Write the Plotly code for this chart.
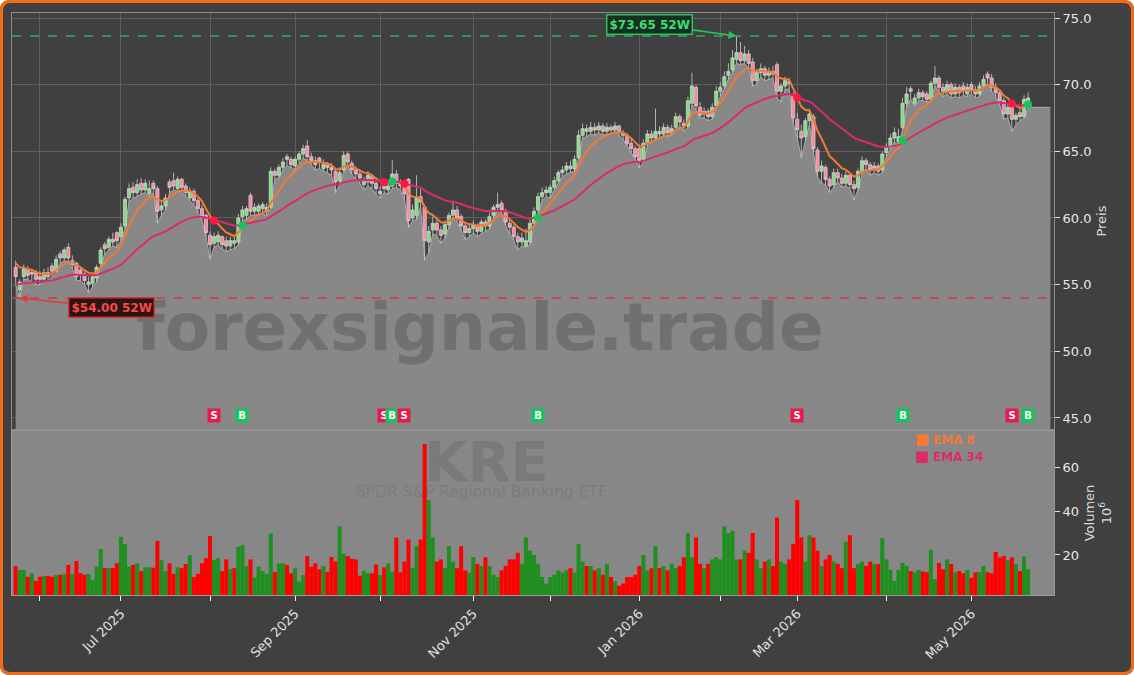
import numpy as np
import pandas as pd
import plotly.graph_objects as go

# ---------------- data ----------------
holidays = ["2025-05-26", "2025-06-19", "2025-07-04", "2025-09-01", "2025-11-27",
            "2025-12-25", "2026-01-01", "2026-01-19", "2026-02-16", "2026-04-03"]

opens = [
    56.3, 54.6, 55.6, 56.1, 55.8, 55.9,
    55.6, 55.4, 55.9, 56.4, 56.0, 57.3, 57.0, 57.8, 56.5, 56.6, 56.1, 55.8, 55.0, 55.1, 55.5, 56.6, 58.0, 57.8, 58.4, 58.9,
    58.6, 59.4, 61.5, 62.3, 61.9, 62.6, 62.1, 61.8, 62.6, 62.2, 60.6, 60.9, 62.7, 62.8, 62.2, 62.9, 62.4, 61.5, 62.0, 61.3, 60.7, 60.2,
    58.7, 58.1, 58.2, 58.6, 58.3, 57.9, 58.3, 58.2, 60.1, 60.2, 61.7, 60.5, 60.5, 60.7, 60.5, 60.8, 63.5, 63.2, 63.8, 64.6, 64.4,
    63.9, 64.4, 64.8, 65.4, 64.6, 64.3, 64.5, 63.7, 64.1, 63.8, 63.5, 62.8, 63.6, 64.8, 64.1, 63.6, 63.3, 62.5, 62.7, 63.1, 62.6,
    61.8, 62.6, 62.1, 62.4, 63.3, 62.6, 62.4, 62.9, 60.0, 60.2, 61.6, 60.8, 58.2, 59.1, 59.6, 59.1, 58.8, 59.5, 60.2, 60.6, 60.1, 59.4, 58.9,
    59.2, 59.4, 59.0, 59.7, 59.4, 60.2, 60.8, 61.1, 60.5, 59.6, 59.3, 58.6, 58.2, 57.9, 58.2, 59.6, 60.6, 61.6, 61.9,
    61.9, 62.3, 62.8, 63.4, 63.6, 63.9, 63.7, 64.5, 66.2, 66.7, 66.5, 66.8, 66.6, 66.9, 66.5, 66.8, 66.6, 66.9, 66.4, 66.2, 65.6, 65.2,
    65.2, 64.4, 65.6, 66.3, 66.0, 66.5, 66.3, 66.8, 66.4, 66.8, 67.6, 67.1, 66.9, 68.6, 69.8, 68.3, 67.8, 68.0, 67.6, 68.4,
    69.5, 69.9, 70.7, 71.1, 71.9, 72.4, 71.8, 72.3, 71.7, 70.3, 70.9, 71.2, 70.7, 71.0, 71.5, 69.5, 69.9, 70.2, 69.2,
    67.4, 66.5, 66.1, 67.3, 67.6, 65.1, 63.5, 63.8, 62.9, 62.5, 63.4, 63.0, 62.6, 63.2, 62.5, 62.3, 63.5, 64.3, 64.0, 63.6, 63.9, 63.6,
    64.9, 65.3, 66.0, 65.7, 66.8, 68.6, 69.7, 68.6, 69.0, 69.4, 69.3, 68.9, 70.1, 70.5, 69.8, 69.5, 70.0, 69.3, 69.8, 69.9, 69.3,
    70.0, 69.6, 69.3, 69.9, 70.8, 70.5, 69.8, 69.4, 68.8, 67.8, 68.3, 67.4, 67.9, 67.6, 68.5,
]
highs = [
    56.8, 55.4, 56.5, 56.4, 56.2, 56.1,
    56.0, 56.2, 56.3, 56.6, 57.2, 57.5, 57.8, 58.1, 57.2, 56.7, 56.3, 56.0, 55.6, 55.9, 56.5, 57.8, 58.2, 58.6, 58.9, 59.0,
    59.6, 61.6, 62.6, 62.7, 62.9, 63.0, 62.9, 62.8, 62.8, 62.4, 61.3, 61.8, 62.9, 63.4, 63.1, 63.0, 62.6, 62.3, 62.2, 61.5, 61.0, 60.3,
    59.0, 58.9, 59.0, 58.7, 58.6, 58.6, 58.6, 60.3, 60.9, 60.9, 61.9, 61.1, 61.1, 61.2, 61.1, 63.8, 63.7, 64.0, 64.5, 64.8, 64.6,
    64.6, 65.0, 65.5, 65.85, 64.9, 64.6, 64.6, 64.4, 64.2, 64.1, 63.7, 63.8, 65.0, 65.0, 64.3, 63.9, 63.6, 63.1, 63.5, 63.3, 62.9,
    62.4, 62.8, 62.7, 64.35, 63.6, 62.9, 62.6, 63.0, 61.0, 63.2, 62.2, 61.0, 59.4, 60.1, 59.9, 59.4, 59.8, 60.4, 61.3, 60.9, 60.3, 59.7, 59.5,
    59.8, 59.6, 59.9, 59.9, 60.4, 61.0, 61.9, 61.3, 60.7, 59.9, 59.5, 58.9, 58.9, 59.2, 59.9, 60.8, 61.9, 62.3, 62.4,
    62.5, 63.1, 63.6, 63.9, 64.2, 64.3, 64.7, 66.6, 67.1, 67.0, 67.2, 67.1, 67.2, 67.1, 67.1, 67.0, 67.2, 67.0, 66.6, 66.4, 65.9, 65.4,
    65.5, 65.9, 66.6, 66.6, 68.2, 66.9, 67.1, 67.0, 67.0, 67.9, 67.8, 67.4, 69.1, 70.9, 70.0, 68.7, 68.3, 68.2, 68.6, 69.9,
    70.2, 71.0, 71.6, 72.6, 73.65, 73.2, 72.9, 72.6, 72.0, 71.2, 71.6, 71.4, 71.3, 71.4, 71.7, 70.1, 70.6, 70.5, 69.4,
    67.9, 67.0, 67.5, 68.2, 67.8, 65.3, 64.3, 64.0, 63.1, 63.7, 63.7, 63.3, 63.5, 63.4, 62.8, 63.7, 64.6, 64.5, 64.2, 64.2, 64.1, 65.0,
    65.6, 66.3, 66.8, 66.7, 69.0, 69.8, 69.9, 69.3, 69.7, 69.6, 69.5, 70.3, 71.4, 70.7, 70.1, 70.3, 70.2, 70.1, 70.0, 70.2, 70.1,
    70.2, 69.9, 70.2, 70.7, 71.0, 70.8, 70.1, 69.6, 69.0, 68.6, 68.5, 67.9, 68.2, 69.2, 69.4,
]
lows = [
    55.0, 54.0, 55.4, 55.4, 55.2, 55.0,
    55.0, 55.2, 55.3, 55.6, 55.9, 56.6, 56.8, 56.7, 56.2, 55.3, 55.3, 55.0, 54.4, 54.8, 55.2, 56.4, 57.3, 57.6, 57.9, 57.8,
    58.3, 59.2, 61.2, 61.5, 61.6, 61.8, 61.9, 61.6, 61.9, 59.6, 60.2, 60.6, 61.9, 62.1, 62.0, 62.0, 61.6, 61.3, 61.0, 60.4, 59.8, 58.6,
    56.9, 57.8, 58.0, 57.7, 57.5, 57.6, 57.7, 58.0, 59.8, 59.9, 60.2, 60.2, 60.3, 60.3, 60.2, 60.7, 62.9, 63.0, 63.6, 63.9, 63.8,
    63.6, 64.1, 64.5, 64.3, 64.0, 63.6, 63.7, 63.5, 63.4, 63.2, 61.9, 62.5, 63.4, 63.9, 63.3, 62.9, 62.6, 62.1, 62.4, 62.2, 61.8,
    61.5, 61.9, 61.8, 62.2, 62.3, 62.1, 61.4, 59.3, 59.8, 59.9, 60.8, 56.85, 57.4, 58.8, 58.7, 58.1, 58.5, 59.3, 59.9, 59.7, 59.1, 58.4, 58.6,
    58.9, 58.6, 58.8, 59.0, 59.2, 60.0, 60.6, 60.3, 59.4, 58.8, 58.3, 57.6, 57.9, 57.8, 58.0, 59.4, 60.4, 61.3, 61.6,
    61.5, 62.1, 62.6, 63.1, 63.3, 63.4, 63.5, 64.4, 66.0, 66.1, 66.3, 66.2, 66.4, 66.2, 66.3, 66.3, 66.5, 66.2, 65.9, 65.4, 64.9, 64.4,
    63.75, 64.2, 65.4, 65.7, 65.9, 66.0, 66.1, 66.1, 66.2, 66.6, 66.9, 66.5, 66.8, 68.5, 68.1, 67.5, 67.5, 67.3, 67.4, 68.2,
    69.1, 69.7, 70.4, 70.9, 71.6, 71.5, 71.6, 71.2, 69.9, 70.0, 70.6, 70.3, 70.4, 70.5, 69.0, 68.7, 69.6, 69.7, 67.1,
    66.0, 64.5, 65.8, 67.0, 64.9, 63.1, 62.6, 62.5, 61.9, 62.3, 62.7, 62.3, 62.4, 62.2, 61.35, 62.1, 63.3, 63.7, 63.2, 63.4, 63.2, 63.4,
    64.6, 65.1, 65.7, 65.5, 66.6, 68.3, 68.9, 68.4, 68.8, 68.8, 68.7, 68.8, 69.9, 69.5, 69.1, 69.3, 69.0, 69.1, 69.0, 69.2, 69.1,
    69.3, 69.0, 69.1, 69.7, 70.1, 69.5, 69.1, 68.5, 67.4, 67.5, 66.5, 67.0, 67.3, 67.5, 68.3,
]
closes = [
    55.6, 55.2, 56.2, 55.7, 55.9, 55.4,
    55.4, 55.9, 55.6, 56.0, 56.9, 57.0, 57.6, 57.0, 56.8, 55.6, 55.8, 55.3, 55.2, 55.6, 56.3, 57.6, 57.7, 58.4, 58.2, 58.3,
    59.3, 61.4, 62.2, 61.9, 62.5, 62.1, 62.6, 62.2, 62.2, 60.5, 60.9, 61.5, 62.3, 62.4, 62.9, 62.3, 61.9, 62.0, 61.3, 60.7, 60.1, 58.9,
    58.0, 58.6, 58.7, 58.0, 57.9, 58.3, 58.1, 60.0, 60.6, 60.7, 60.5, 60.8, 60.9, 61.0, 60.8, 63.5, 63.2, 63.8, 64.2, 64.4, 64.0,
    64.4, 64.8, 65.2, 64.6, 64.3, 64.0, 64.2, 64.0, 63.8, 63.6, 62.7, 63.4, 64.7, 64.2, 63.6, 63.3, 63.0, 62.8, 63.2, 62.6, 62.2,
    62.0, 62.2, 62.4, 63.3, 62.6, 62.4, 61.8, 59.8, 60.6, 61.5, 61.2, 58.3, 59.0, 59.6, 59.1, 58.7, 59.5, 60.2, 60.6, 60.0, 59.4, 58.9, 59.2,
    59.5, 59.0, 59.7, 59.4, 60.1, 60.8, 61.0, 60.6, 59.7, 59.3, 58.6, 58.2, 58.5, 58.3, 59.6, 60.5, 61.6, 61.9, 62.1,
    62.3, 62.8, 63.4, 63.6, 63.9, 63.7, 64.4, 66.2, 66.7, 66.5, 66.8, 66.6, 66.9, 66.5, 66.8, 66.6, 66.9, 66.4, 66.2, 65.6, 65.2, 64.6,
    64.3, 65.6, 66.3, 66.0, 66.5, 66.3, 66.8, 66.4, 66.7, 67.6, 67.2, 66.9, 68.8, 69.9, 68.4, 67.7, 68.0, 67.6, 68.3, 69.5,
    69.8, 70.6, 71.0, 72.0, 72.4, 71.8, 72.3, 71.6, 70.3, 70.9, 71.2, 70.7, 71.0, 70.8, 69.5, 69.9, 70.3, 70.1, 67.5,
    66.6, 66.0, 67.3, 67.8, 65.2, 63.5, 63.9, 62.9, 62.4, 63.4, 63.0, 62.6, 63.2, 62.5, 62.2, 63.5, 64.3, 64.0, 63.6, 63.9, 63.5, 64.8,
    65.3, 66.0, 66.4, 66.1, 68.6, 69.3, 69.5, 69.0, 69.4, 69.1, 68.9, 70.1, 70.5, 69.8, 69.5, 70.0, 69.3, 69.8, 69.4, 69.6, 69.8,
    69.6, 69.3, 69.9, 70.4, 70.5, 69.8, 69.4, 68.8, 67.8, 68.3, 67.4, 67.7, 67.6, 68.9, 69.0,
]
volumes = [  # millions
    15, 13.2, 13.2, 10.1, 11.7, 8.2,
    10.1, 10.5, 10.5, 10.1, 10.9, 11, 11.4, 15.5, 11.4, 17.3, 11.7, 11, 11.4, 8.6, 14.7, 22.7, 14.1, 14.1, 14.1, 16.2,
    28.2, 25, 14.7, 15.5, 16.2, 12.7, 14.4, 14.4, 14.2, 26.4, 17.7, 12.7, 16.2, 11.4, 14.4, 14, 15.9, 19.9, 9.9, 11.4, 16.2, 18.5,
    28.6, 17.7, 18.5, 12.7, 18, 13.6, 14, 23.8, 24.5, 15, 18, 9.7, 14.7, 12.7, 11.4, 29.8, 12.3, 16.2, 16.2, 15.5, 11.7,
    14, 7.9, 10.9, 19.5, 14.7, 16.2, 13.5, 15, 12.3, 19.1, 17.1, 33, 20.5, 19.5, 18.3, 18, 10.6, 12.7, 11.7, 11.7, 15.7,
    10.9, 14.4, 16.2, 12.4, 27.9, 12.1, 17, 27, 14, 24, 27, 70.5, 45, 28, 17, 18, 14, 24, 17, 14, 24, 13, 12,
    19, 16, 15, 19, 15, 11, 10, 13, 15, 18, 18, 21, 16, 28, 22, 20, 16, 10, 7,
    10, 11, 13, 12, 13, 14, 12, 25, 17, 15, 15, 13, 14, 11, 16, 10, 8, 6, 7, 10, 10, 11,
    15, 20, 13, 14, 24, 14, 15, 13, 16, 14, 15, 19, 30, 19, 28, 16, 14, 16, 18, 19,
    18, 33, 30, 31, 18, 18, 22, 21, 30, 18, 14, 17, 18, 15, 37, 17, 16, 18, 25,
    45, 28, 17, 29, 28, 22, 15, 18, 20, 17, 16, 14, 26, 29, 14, 16, 17, 15, 17, 16, 15.9, 27.7,
    18, 13.2, 8.2, 13.2, 16.4, 15, 12.7, 12.2, 13.2, 12.5, 12.2, 22.3, 9, 16.4, 13.5, 18, 15.9, 12.2, 12.7, 11.7, 13.2,
    9.6, 12.1, 12.2, 15, 12.2, 11.7, 21.4, 18.9, 19.5, 17.6, 18.9, 15.9, 12.7, 19.3, 13.6,
]
ema_seed_fast = 56.9   # EMA 8 value just before the first candle
ema_seed_slow = 55.0   # EMA 34 value just before the first candle
signal_dates = ["2025-08-04", "2025-08-13", "2025-10-02", "2025-10-06", "2025-10-09",
                "2025-11-25", "2026-03-02", "2026-04-08", "2026-05-15", "2026-05-21"]
signal_types = ["S", "B", "S", "B", "S", "B", "S", "B", "S", "B"]
ticker = "KRE"
ticker_name = "SPDR S&P Regional Banking ETF"
watermark = "forexsignale.trade"

# ---------------- derived ----------------
n = min(len(opens), len(highs), len(lows), len(closes), len(volumes))
opens, highs, lows, closes, volumes = [np.array(a[:n], dtype=float) for a in (opens, highs, lows, closes, volumes)]
dates = pd.bdate_range(start="2025-05-22", periods=n, freq="C", holidays=holidays)
idx = np.arange(n)


def ema(vals, span, seed):
    a = 2.0 / (span + 1)
    out, prev = [], seed
    for v in vals:
        prev = a * v + (1 - a) * prev
        out.append(prev)
    return np.array(out)


ema8 = ema(closes, 8, ema_seed_fast)
ema34 = ema(closes, 34, ema_seed_slow)

periods = dates.to_period("M")
tick_idx = [i for i in range(1, n) if periods[i] != periods[i - 1]]
tick_txt = [dates[i].strftime("%b %Y") if dates[i].month % 2 == 1 else "" for i in tick_idx]

date_pos = {d.strftime("%Y-%m-%d"): i for i, d in enumerate(dates)}
sig_idx = [date_pos[d] for d in signal_dates if d in date_pos]
sig_t = [t for d, t in zip(signal_dates, signal_types) if d in date_pos]
sig_y = [(ema8[i] + ema34[i]) / 2 for i in sig_idx]

hi52 = float(highs.max()); i_hi = int(highs.argmax())
lo52 = float(lows.min()); i_lo = int(lows.argmin())

GREEN_V, RED_V = "#1f8f1f", "#ff0000"
vol_colors = [GREEN_V if c >= o else RED_V for o, c in zip(opens, closes)]

# ---------------- figure ----------------
fig = go.Figure()

# grey area under the lows (base subplot)
fig.add_trace(go.Scatter(
    x=np.append(idx, idx[-1] + 5.5), y=np.append(lows, lows[-1]),
    mode="lines", fill="tozeroy", fillcolor="#888888",
    line=dict(color="#ababab", width=1), hoverinfo="skip", showlegend=False,
    xaxis="x", yaxis="y"))

# candles on overlay axis (above the area)
fig.add_trace(go.Candlestick(
    x=idx, open=opens, high=highs, low=lows, close=closes,
    increasing=dict(fillcolor="#7fe07f", line=dict(color="#cfcfcf", width=0.8)),
    decreasing=dict(fillcolor="#ff86a0", line=dict(color="#cfcfcf", width=0.8)),
    whiskerwidth=0, showlegend=False, hoverinfo="skip", xaxis="x", yaxis="y3"))

fig.add_trace(go.Scatter(x=idx, y=ema8, mode="lines", name="EMA 8",
                         line=dict(color="#f27a35", width=2), xaxis="x", yaxis="y3"))
fig.add_trace(go.Scatter(x=idx, y=ema34, mode="lines", name="EMA 34",
                         line=dict(color="#d92d6b", width=2), xaxis="x", yaxis="y3"))
fig.add_trace(go.Scatter(
    x=sig_idx, y=sig_y, mode="markers",
    marker=dict(size=8, color=["#ff1744" if t == "S" else "#14c45c" for t in sig_t]),
    xaxis="x", yaxis="y3", showlegend=False))

fig.add_trace(go.Bar(x=idx, y=volumes, width=1.0,
                     marker=dict(color=vol_colors, line=dict(width=0)),
                     xaxis="x2", yaxis="y2", showlegend=False))

XR = [-0.9, 256.4]
PR = [44.17, 75.375]
fig.update_layout(
    width=1134, height=675, margin=dict(l=12, r=80, t=13, b=80),
    paper_bgcolor="#404040", plot_bgcolor="#404040",
    font=dict(family="DejaVu Sans", color="#e6e6e6", size=13),
    showlegend=False, hovermode=False, boxgap=0.12, boxgroupgap=0.12,
    xaxis=dict(domain=[0, 1], anchor="y", range=XR, tickmode="array", tickvals=tick_idx,
               showticklabels=False, ticks="", showgrid=True, gridcolor="#5f5f5f", gridwidth=1,
               zeroline=False, showline=True, mirror=True, linecolor="#8c8c8c",
               rangeslider=dict(visible=False)),
    yaxis=dict(domain=[0.2852, 1], anchor="x", side="right", range=PR,
               tickmode="linear", tick0=45, dtick=5, tickformat=".1f",
               ticks="outside", ticklen=5, tickcolor="#e0e0e0",
               tickfont=dict(size=13, color="#e8e8e8"),
               showgrid=True, gridcolor="#5f5f5f", zeroline=False,
               showline=True, mirror=True, linecolor="#8c8c8c",
               title=dict(text="Preis", font=dict(size=13, color="#dcdcdc"), standoff=6)),
    yaxis3=dict(overlaying="y", anchor="x", side="right", range=PR, visible=False),
    xaxis2=dict(domain=[0, 1], anchor="y2", range=XR, tickmode="array", tickvals=tick_idx,
                ticktext=tick_txt, tickangle=-45, ticks="outside", ticklen=5, tickcolor="#f0f0f0",
                tickfont=dict(size=13, color="#e0e0e0"), showgrid=False, zeroline=False,
                showline=True, mirror=True, linecolor="#9a9a9a"),
    yaxis2=dict(domain=[0, 0.2818], anchor="x2", side="right", range=[1.8, 76.4],
                tickvals=[20, 40, 60], ticks="outside", ticklen=5, tickcolor="#e0e0e0",
                tickfont=dict(size=13, color="#e8e8e8"), showgrid=False, zeroline=False,
                showline=True, mirror=True, linecolor="#9a9a9a",
                title=dict(text="Volumen<br>10<sup>6</sup>", font=dict(size=13, color="#dcdcdc"), standoff=6)),
)

# ---------------- shapes ----------------
W, H, ML, MR, MT, MB = 1134, 675, 12, 80, 13, 80
PW, PH = W - ML - MR, H - MT - MB


def px(x):
    return (x - ML) / PW


def py(y):
    return (H - MB - y) / PH


shapes = [
    dict(type="rect", xref="x2 domain", yref="y2 domain", x0=0, x1=1, y0=0, y1=1,
         fillcolor="#878787", line=dict(width=0), layer="below"),
    dict(type="line", xref="x domain", yref="y", x0=0, x1=1, y0=hi52, y1=hi52,
         line=dict(color="#2fae5c", width=1.6, dash="dash")),
    dict(type="line", xref="x domain", yref="y", x0=0, x1=1, y0=lo52, y1=lo52,
         line=dict(color="#cf3b3b", width=1.6, dash="dash")),
]
# white outer corners + rounded orange frame
r = 10.5
for cx, cy, sx, sy in [(0, 0, 1, 1), (W, 0, -1, 1), (0, H, 1, -1), (W, H, -1, -1)]:
    shapes.append(dict(
        type="path", xref="paper", yref="paper", layer="above",
        path=f"M {px(cx)},{py(cy)} L {px(cx + sx * r)},{py(cy)} Q {px(cx)},{py(cy)} {px(cx)},{py(cy + sy * r)} Z",
        fillcolor="#ffffff", line=dict(width=0)))
i0, rr = 1.5, 9
x0, x1, yt, yb = i0, W - i0, i0, H - i0
frame = (f"M {px(x0 + rr)},{py(yt)} L {px(x1 - rr)},{py(yt)} Q {px(x1)},{py(yt)} {px(x1)},{py(yt + rr)} "
         f"L {px(x1)},{py(yb - rr)} Q {px(x1)},{py(yb)} {px(x1 - rr)},{py(yb)} "
         f"L {px(x0 + rr)},{py(yb)} Q {px(x0)},{py(yb)} {px(x0)},{py(yb - rr)} "
         f"L {px(x0)},{py(yt + rr)} Q {px(x0)},{py(yt)} {px(x0 + rr)},{py(yt)} Z")
shapes.append(dict(type="path", xref="paper", yref="paper", path=frame, layer="above",
                   line=dict(color="#f26a1a", width=3)))
fig.update_layout(shapes=shapes)

# ---------------- annotations ----------------
ann = []
ann.append(dict(text=watermark, xref="x domain", yref="y domain", x=0.449, y=0.243,
                showarrow=False, xanchor="center", yanchor="middle",
                font=dict(size=66, color="rgba(45,45,45,0.26)", weight="bold")))
ann.append(dict(text=ticker, xref="x2 domain", yref="y2 domain", x=0.455, y=0.817,
                showarrow=False, xanchor="center", yanchor="middle",
                font=dict(size=56, color="rgba(60,60,60,0.17)", weight="bold")))
ann.append(dict(text=ticker_name, xref="x2 domain", yref="y2 domain", x=0.451, y=0.628,
                showarrow=False, xanchor="center", yanchor="middle",
                font=dict(size=15.5, color="rgba(60,60,60,0.17)")))
ann.append(dict(text=f"<b>${hi52:.2f} 52W</b>", x=i_hi, y=hi52, xref="x", yref="y",
                showarrow=True, ax=-87, ay=-12, arrowhead=2, arrowsize=1, arrowwidth=1.6,
                arrowcolor="#2fbf5f", font=dict(size=12, color="#3ddc74"),
                bgcolor="#15301f", bordercolor="#2fbf5f", borderwidth=1.5, borderpad=2))
ann.append(dict(text=f"<b>${lo52:.2f} 52W</b>", x=i_lo, y=lo52, xref="x", yref="y",
                showarrow=True, ax=92, ay=10, arrowhead=2, arrowsize=1, arrowwidth=1.6,
                arrowcolor="#e03a3a", font=dict(size=12, color="#ff4848"),
                bgcolor="#2a1515", bordercolor="#d83030", borderwidth=1.5, borderpad=2))
for i, t in zip(sig_idx, sig_t):
    ann.append(dict(text=f"<b>{t}</b>", x=i, y=0.032, xref="x", yref="y domain",
                    showarrow=False, xanchor="center", yanchor="middle", width=12, height=13,
                    bgcolor="#e8194b" if t == "S" else "#14c45c", borderpad=0,
                    font=dict(size=10, color="#ffffff")))
ann.append(dict(text="<span style='font-size:15px'>■</span> <b>EMA 8</b>", xref="paper", yref="paper",
                x=px(913), y=py(439), xanchor="left", yanchor="middle", showarrow=False,
                font=dict(size=12, color="#f27a35")))
ann.append(dict(text="<span style='font-size:15px'>■</span> <b>EMA 34</b>", xref="paper", yref="paper",
                x=px(913), y=py(456), xanchor="left", yanchor="middle", showarrow=False,
                font=dict(size=12, color="#d92d6b")))
fig.update_layout(annotations=ann)

fig.write_html("out.html")
